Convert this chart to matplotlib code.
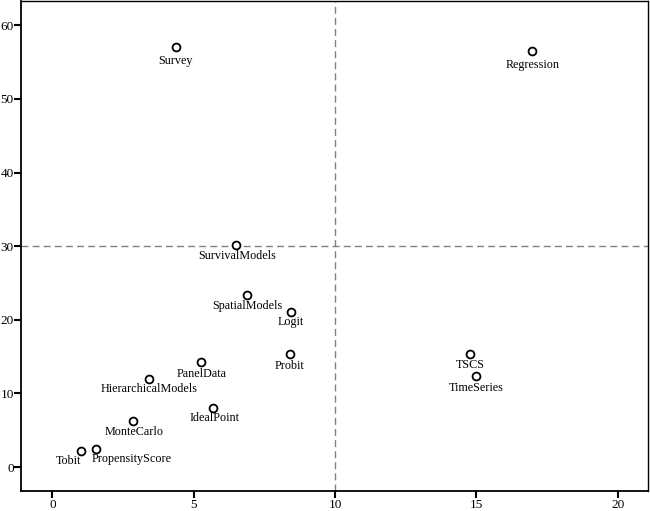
import matplotlib
matplotlib.use("Agg")
import matplotlib.pyplot as plt

labels = ["Survey", "Regression", "SurvivalModels", "SpatialModels", "Logit",
          "Probit", "PanelData", "HierarchicalModels", "IdealPoint",
          "MonteCarlo", "Tobit", "PropensityScore", "TSCS", "TimeSeries"]
x_vals = [4.37, 16.98, 6.49, 6.88, 8.44, 8.40, 5.25, 3.43, 5.69, 2.86,
          1.01, 1.54, 14.77, 15.00]
y_vals = [57.1, 56.5, 30.1, 23.4, 21.0, 15.3, 14.2, 12.0, 8.0, 6.3,
          2.2, 2.5, 15.3, 12.4]
x_ticks = [0, 5, 10, 15, 20]
y_ticks = [0, 10, 20, 30, 40, 50, 60]
x_ref = 10
y_ref = 30

# label offsets in pixels (layout only)
offsets = {
    "Survey": (0, -14), "Regression": (0, -14), "SurvivalModels": (1, -11),
    "SpatialModels": (0, -11.5), "Logit": (0, -9.5), "Probit": (0, -11.3),
    "PanelData": (0.5, -11.3), "HierarchicalModels": (0, -10),
    "IdealPoint": (1.5, -9.7), "MonteCarlo": (0.5, -11), "Tobit": (-12, -10.3),
    "PropensityScore": (35.6, -10.3), "TSCS": (0, -10.7), "TimeSeries": (0, -12.6),
}

plt.rcParams['font.family'] = ['Liberation Serif', 'DejaVu Serif']

fig = plt.figure(figsize=(6.5, 5.11), dpi=100)
ax = fig.add_axes([21.3 / 650, 20 / 511, (648 - 21.3) / 650, 490 / 511])
ax.set_xlim(-1.10, 21.07)
ax.set_ylim(-3.26, 63.3)

ax.axvline(x_ref, color="#808080", lw=1.0, ls=(0, (5, 3)), zorder=1)
ax.axhline(y_ref, color="#808080", lw=1.0, ls=(0, (5, 3)), zorder=1)

ax.scatter(x_vals, y_vals, s=32, facecolors="white", edgecolors="black",
           linewidths=1.3, zorder=3)

for lab, xv, yv in zip(labels, x_vals, y_vals):
    dx, dy = offsets[lab]
    ax.annotate(lab, (xv, yv), xytext=(dx * 0.72, dy * 0.72),
                textcoords="offset points", ha="center", va="center",
                fontsize=8.7, color="black", zorder=4)

ax.set_xticks(x_ticks)
ax.set_yticks(y_ticks)
ax.tick_params(axis="both", direction="out", length=5, width=1.5,
               labelsize=9.5, colors="black", pad=0.5)
for sp in ax.spines.values():
    sp.set_linewidth(1.0)
ax.spines["left"].set_linewidth(1.3)
ax.spines["bottom"].set_linewidth(1.3)

fig.savefig("out.png", dpi=100)
